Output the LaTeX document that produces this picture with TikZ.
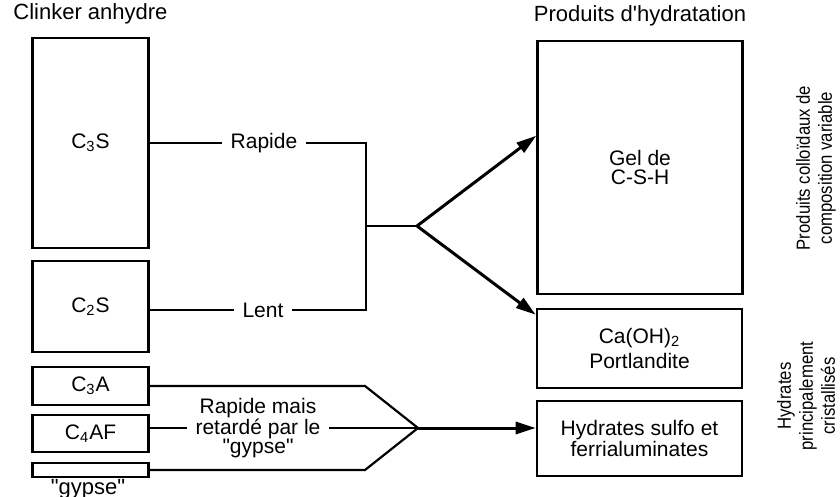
\documentclass[tikz,border=0pt]{standalone}
\usepackage{fontspec}
\setmainfont{Liberation Sans}[Ligatures=TeXOff]
\newfontfamily\narrowfont{Liberation Sans}[FakeStretch=0.88, Ligatures=TeXOff]
\usetikzlibrary{arrows.meta}

\begin{document}
\begin{tikzpicture}[x=0.5pt,y=-0.5pt,font=\fontsize{10.5}{9.5}\selectfont]

% Define styles
\tikzstyle{phase}=[draw, line width=1.3pt, inner sep=0pt, minimum width=58pt]
\tikzstyle{product}=[draw, line width=1.3pt, inner sep=0pt, minimum width=102.5pt, align=center]
\tikzstyle{label}=[align=center, inner sep=4pt]
\tikzstyle{heading}=[inner sep=0pt, font=\fontsize{11}{12}\selectfont]
\tikzstyle{side}=[font=\narrowfont\fontsize{9.5}{11}\selectfont, align=center, rotate=90]
\tikzstyle{link}=[line width=1.1pt]
\tikzstyle{flow}=[line width=1.5pt, -{Triangle[length=10pt,width=6pt]}]

\useasboundingbox (0,0) rectangle (840,497);

% Titles
\node[heading, anchor=west] (tclinker) at (13,14) {Clinker anhydre};
\node[heading, anchor=base] (thydr) at (640,22) {Produits d'hydratation};

% Anhydrous phases
\node[phase, minimum height=105pt] (c3s) at (90.5,143) {C\textsubscript{3}S};
\node[phase, minimum height=45.5pt] (c2s) at (90.5,306.5) {C\textsubscript{2}S};
\node[phase, minimum height=19pt] (c3a) at (90.5,386) {C\textsubscript{3}A};
\node[phase, minimum height=18.5pt] (c4af) at (90.5,433.5) {C\textsubscript{4}AF};
\node[phase, minimum height=7pt] (gyp) at (90.5,470) {};
\node[heading] (tgyp) at (88,489) {"gypse"};

% Hydration products
\node[product, minimum height=126.5pt] (csh) at (640,167.5) {Gel de\\C-S-H};
\node[product, minimum height=39.5pt] (ch) at (639.5,348.5) {Ca(OH)\textsubscript{2}\\[2pt]Portlandite};
\node[product, minimum height=37.5pt] (afm) at (639.5,438.5) {Hydrates sulfo et\\ferrialuminates};

% Side notes
\node[side] (colloid) at (816,168) {Produits colloïdaux de\\composition variable};
\node[side] (cryst) at (806,396) {Hydrates\\principalement\\cristallisés};

% Rates
\node[label] (rapide) at (264,143) {Rapide};
\node[label] (lent) at (263,310) {Lent};
\node[label] (mixed) at (258,428) {Rapide mais\\retardé par le\\"gypse"};

% Junctions
\coordinate (jtop) at (366,143);
\coordinate (jbot) at (366,310);
\coordinate (jmid) at (366,226);
\coordinate (split) at (417,226);
\coordinate (bend) at (365,428);
\coordinate (merge) at (418,428);

% Silicates
\draw[link] (c3s) -- (rapide);
\draw[link] (c2s.east |- lent) -- (lent);
\draw[link] (rapide) -- (jtop) -- (jbot) -- (lent);
\draw[link] (jmid) -- (split);
\draw[flow] (split) -- (csh.163);
\draw[flow] (split) -- (ch.162);

% Aluminates
\draw[link] (c3a) -- (c3a -| bend) -- (merge);
\draw[link] (gyp) -- (gyp -| bend) -- (merge);
\draw[link] (c4af.east |- mixed) -- (mixed);
\draw[link] (mixed) -- (merge);
\draw[flow] (merge) -- (merge -| afm.west);

\end{tikzpicture}
\end{document}
